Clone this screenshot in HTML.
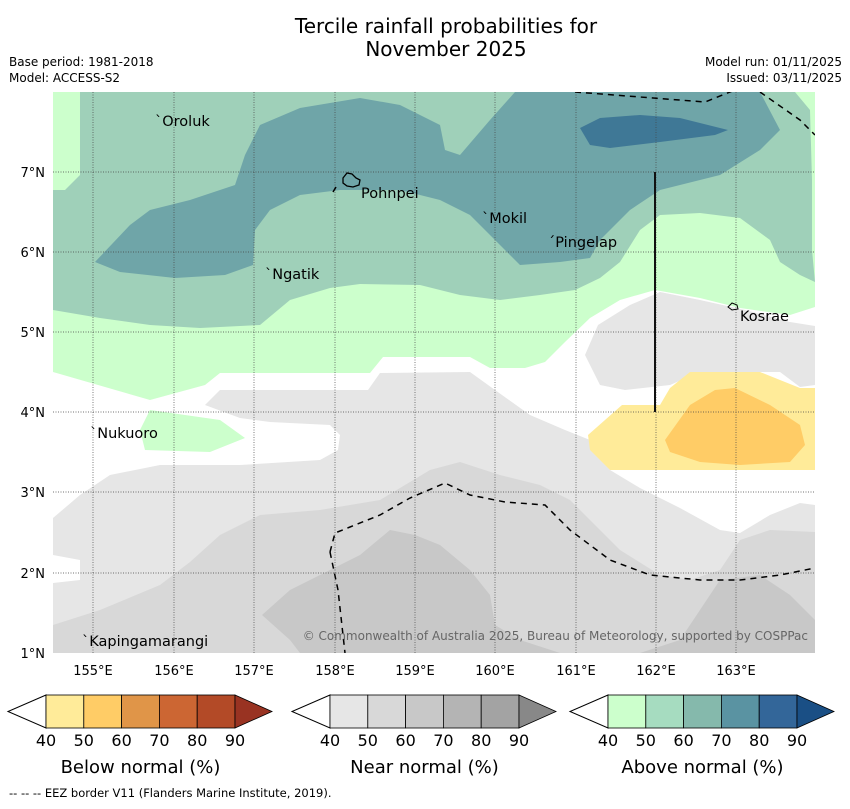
<!DOCTYPE html>
<html><head><meta charset="utf-8"><style>
body{margin:0;background:#fff;width:850px;height:804px;overflow:hidden;font-family:"Liberation Sans","DejaVu Sans",sans-serif}
svg text{font-family:"DejaVu Sans","Liberation Sans",sans-serif}
</style></head><body>
<svg width="850" height="804" viewBox="0 0 850 804">
<text x="446" y="33" font-size="20" text-anchor="middle">Tercile rainfall probabilities for</text>
<text x="446" y="56" font-size="20" text-anchor="middle">November 2025</text>
<text x="9" y="66" font-size="12">Base period: 1981-2018</text>
<text x="9" y="82" font-size="12">Model: ACCESS-S2</text>
<text x="842" y="66" font-size="12" text-anchor="end">Model run: 01/11/2025</text>
<text x="842" y="82" font-size="12" text-anchor="end">Issued: 03/11/2025</text>
<defs><clipPath id="mc"><rect x="53" y="92" width="762" height="561"/></clipPath></defs>
<g clip-path="url(#mc)">
<rect x="53" y="92" width="762" height="561" fill="#fff"/>
<polygon fill="#ccffcc" points="53,92 815,92 815,307 790,315 740,308 700,298 655,290 620,300 590,318 565,342 545,362 525,368 490,368 470,357 383,357 370,373 220,373 205,385 150,400 53,372"/>
<polygon fill="#ccffcc" points="150,410 220,420 245,438 210,452 145,450 140,430"/>
<polygon fill="#9fd0b9" points="80,92 795,92 810,110 812,180 812,250 815,282 800,275 780,262 770,240 740,218 700,213 660,215 640,230 620,262 600,278 575,290 540,295 500,300 460,295 420,285 360,284 330,288 290,300 260,325 200,328 150,325 100,318 53,310 53,190 65,190 80,175"/>
<polygon fill="#6fa5a8" points="95,262 130,225 150,210 190,200 235,185 245,155 260,125 300,108 360,98 400,105 440,125 445,150 460,155 490,120 515,92 760,92 780,130 760,150 720,175 660,190 630,210 600,240 590,258 560,262 520,265 500,245 470,215 440,200 400,190 340,190 300,195 270,210 255,230 253,265 225,275 175,278 120,272"/>
<polygon fill="#3f7896" points="580,128 600,118 640,115 680,118 728,130 715,135 660,142 610,148 590,145"/>
<polygon fill="#e6e6e6" points="53,518 80,495 110,475 160,465 240,465 320,460 338,450 340,435 330,425 270,422 240,418 205,405 220,390 368,390 380,373 470,372 495,390 530,415 565,430 590,440 610,470 640,488 680,508 720,530 740,533 770,515 800,503 815,505 815,653 53,653 53,583 80,580 80,560 53,555"/>
<polygon fill="#e6e6e6" points="585,355 598,325 630,305 660,292 700,300 745,310 790,322 815,326 815,385 800,387 780,372 700,372 670,385 625,390 600,385"/>
<polygon fill="#d8d8d8" points="53,625 100,610 160,585 190,562 220,535 260,515 320,510 380,500 430,470 460,462 500,475 540,485 570,500 590,520 620,550 660,575 690,580 720,570 740,540 770,530 815,532 815,653 53,653"/>
<polygon fill="#c8c8c8" points="262,615 290,590 330,570 360,555 390,530 415,535 440,545 470,570 490,595 495,625 520,640 560,653 640,653 680,640 700,610 720,580 760,575 790,595 815,620 815,653 300,653 290,640"/>
<polygon fill="#ffeb99" points="588,435 622,405 660,405 670,388 690,372 760,372 800,388 815,388 815,470 610,470 590,450"/>
<polygon fill="#ffcc66" points="665,440 690,405 715,390 735,388 770,405 800,425 805,445 790,462 740,465 700,462 670,452"/>
<g stroke="#444" stroke-width="0.7" stroke-dasharray="1,1.5">
<line x1="93" y1="92" x2="93" y2="653"/><line x1="174" y1="92" x2="174" y2="653"/><line x1="254" y1="92" x2="254" y2="653"/><line x1="335" y1="92" x2="335" y2="653"/><line x1="415" y1="92" x2="415" y2="653"/><line x1="495" y1="92" x2="495" y2="653"/><line x1="576" y1="92" x2="576" y2="653"/><line x1="656" y1="92" x2="656" y2="653"/><line x1="736" y1="92" x2="736" y2="653"/>
<line x1="53" y1="172" x2="815" y2="172"/><line x1="53" y1="252" x2="815" y2="252"/><line x1="53" y1="332" x2="815" y2="332"/><line x1="53" y1="412" x2="815" y2="412"/><line x1="53" y1="492" x2="815" y2="492"/><line x1="53" y1="573" x2="815" y2="573"/>
</g>
<g fill="none" stroke="#000" stroke-width="1.5" stroke-dasharray="6,5">
<polyline points="575,92 705,102 735,90"/>
<polyline points="760,92 800,120 815,135"/>
<polyline points="330,552 335,533 350,527 380,515 410,498 445,483 470,495 505,502 545,505 570,530 610,560 650,575 700,580 740,580 780,575 815,568"/>
<polyline points="330,552 338,590 345,653"/>
<polyline points="333,192 336,187"/>
</g>
<line x1="655" y1="172" x2="655" y2="412" stroke="#111" stroke-width="2"/>
<path d="M343,178 l4,-5 l5,1 l4,4 l4,2 l-1,5 l-6,2 l-6,-1 l-4,-3z" fill="none" stroke="#000" stroke-width="1.3"/>
<path d="M728,307 l4,-4 l5,2 l1,4 l-6,1z" fill="none" stroke="#000" stroke-width="1"/>
<g font-size="14.5" fill="#000">
<text x="155" y="126" font-family="Liberation Sans">`Oroluk</text><text x="361" y="198">Pohnpei</text><text x="482" y="223" font-family="Liberation Sans">`Mokil</text><text x="548" y="247" font-family="Liberation Sans">´Pingelap</text><text x="265" y="279" font-family="Liberation Sans">`Ngatik</text><text x="740" y="321">Kosrae</text><text x="90" y="438" font-family="Liberation Sans">`Nukuoro</text><text x="82" y="646" font-family="Liberation Sans">`Kapingamarangi</text>
</g>
<text x="808" y="640" font-size="12" fill="#666" text-anchor="end">© Commonwealth of Australia 2025, Bureau of Meteorology, supported by COSPPac</text>
</g>
<g font-size="13" text-anchor="end">
<text x="45" y="177">7°N</text><text x="45" y="257">6°N</text><text x="45" y="337">5°N</text><text x="45" y="417">4°N</text><text x="45" y="497">3°N</text><text x="45" y="578">2°N</text><text x="45" y="658">1°N</text>
</g>
<g font-size="13" text-anchor="middle">
<text x="93" y="675">155°E</text><text x="174" y="675">156°E</text><text x="254" y="675">157°E</text><text x="335" y="675">158°E</text><text x="415" y="675">159°E</text><text x="495" y="675">160°E</text><text x="576" y="675">161°E</text><text x="656" y="675">162°E</text><text x="736" y="675">163°E</text>
</g>
<g id="cbars"></g>
<text x="9" y="797" font-size="11.5">--  --  -- EEZ border V11 (Flanders Marine Institute, 2019).</text>
</svg>
<script>
const ticks=["40","50","60","70","80","90"];
const bars=[{x:46,name:"below",label:"Below normal (%)",cols:["#ffeb99","#ffcc66","#e09548","#cc6633","#b34a27"],arrow:"#993322"},
{x:330,name:"near",label:"Near normal (%)",cols:["#e6e6e6","#d8d8d8","#c8c8c8","#b4b4b4","#a3a3a3"],arrow:"#888888"},
{x:608,name:"above",label:"Above normal (%)",cols:["#ccffcc","#a6dcc0","#85b9ac","#5a93a2","#336699"],arrow:"#1a4f85"}];
const ns="http://www.w3.org/2000/svg",g=document.getElementById("cbars");
function mk(t,a,p){const e=document.createElementNS(ns,t);for(const k in a)e.setAttribute(k,a[k]);(p||g).appendChild(e);return e;}
bars.forEach(b=>{
 const grp=mk("g",{});
 
 
 const w=37.8,y0=695,h=33,x1=b.x+5*w;
 mk("polygon",{points:`${b.x},${y0} ${b.x-38},${y0+h/2} ${b.x},${y0+h}`,fill:"#fff",stroke:"#000","stroke-width":1},grp);
 b.cols.forEach((c,i)=>{const r=mk("rect",{x:b.x+i*w,y:y0,width:w,height:h,fill:c,stroke:"#000","stroke-width":0.8},grp);
  
  });
 mk("polygon",{points:`${x1},${y0} ${x1+37},${y0+h/2} ${x1},${y0+h}`,fill:b.arrow,stroke:"#000","stroke-width":0.8},grp);
 ticks.forEach((t,i)=>{const tx=mk("text",{x:b.x+i*w,y:746,"font-size":16,"text-anchor":"middle"},grp);tx.textContent=t;});
 const lb=mk("text",{x:b.x+2.5*w,y:773,"font-size":18,"text-anchor":"middle"},grp);lb.textContent=b.label;
});
</script>
</body></html>
